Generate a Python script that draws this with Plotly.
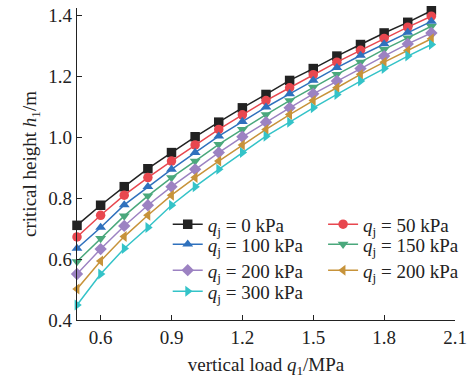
import plotly.graph_objects as go

x_load = [0.5, 0.6, 0.7, 0.8, 0.9, 1.0, 1.1, 1.2, 1.3, 1.4, 1.5, 1.6, 1.7, 1.8, 1.9, 2.0]

h_q0 = [0.711, 0.777, 0.838, 0.897, 0.950, 1.002, 1.050, 1.097, 1.141, 1.187, 1.226, 1.267, 1.305, 1.343, 1.378, 1.416]
h_q50 = [0.673, 0.744, 0.810, 0.868, 0.922, 0.975, 1.026, 1.074, 1.121, 1.163, 1.206, 1.247, 1.286, 1.325, 1.362, 1.398]
h_q100 = [0.635, 0.704, 0.778, 0.838, 0.895, 0.950, 1.004, 1.052, 1.099, 1.143, 1.187, 1.229, 1.269, 1.307, 1.345, 1.381]
h_q150 = [0.592, 0.668, 0.742, 0.808, 0.868, 0.922, 0.977, 1.026, 1.075, 1.121, 1.165, 1.207, 1.247, 1.289, 1.327, 1.365]
h_q200a = [0.551, 0.633, 0.709, 0.777, 0.838, 0.895, 0.950, 1.002, 1.050, 1.097, 1.143, 1.185, 1.226, 1.267, 1.307, 1.343]
h_q200b = [0.502, 0.594, 0.674, 0.744, 0.810, 0.868, 0.922, 0.975, 1.026, 1.075, 1.121, 1.163, 1.207, 1.247, 1.285, 1.324]
h_q300 = [0.449, 0.551, 0.635, 0.704, 0.777, 0.838, 0.895, 0.950, 1.004, 1.050, 1.097, 1.141, 1.185, 1.226, 1.267, 1.305]

labels = ["0", "50", "100", "150", "200", "200", "300"]
series = [h_q0, h_q50, h_q100, h_q150, h_q200a, h_q200b, h_q300]
colors = ["#222222", "#e8474f", "#2f71bd", "#4aa87c", "#9c82c2", "#c7933a", "#34c3c8"]
symbols = ["square", "circle", "triangle-up", "triangle-down", "diamond", "triangle-left", "triangle-right"]

Y_MIN, Y_MAX, Y_TOP = 0.4, 1.4, 1.425
PLOT_H = 304  # pixel height from 0.4 to 1.4
top_margin = 16 - round((Y_TOP - Y_MAX) / (Y_MAX - Y_MIN) * PLOT_H)
full_h = PLOT_H * (Y_TOP - Y_MIN) / (Y_MAX - Y_MIN)

# legend row centres (pixel rows in the picture) and column positions (plot fractions)
legend_rows_px = [224, 224, 244, 244, 270, 270, 291]
legend_cols = [0.240, 0.651, 0.240, 0.651, 0.240, 0.651, 0.240]

FONT = "Liberation Serif"
FS = 19

fig = go.Figure()
layout_legends = {}
for i, (lab, ys, c, s) in enumerate(zip(labels, series, colors, symbols)):
    lid = "legend" if i == 0 else f"legend{i+1}"
    fig.add_trace(go.Scatter(
        x=x_load, y=ys, mode="lines+markers",
        name=f"<i>q</i><sub>j</sub> = {lab} kPa",
        line=dict(color=c, width=1.5),
        marker=dict(symbol=s, size=9.5, color=c),
        cliponaxis=False,
        legend=lid,
    ))
    ypos = 1 - (legend_rows_px[i] - top_margin) / full_h
    layout_legends[lid] = dict(
        x=legend_cols[i], y=ypos, xanchor="left", yanchor="middle",
        font=dict(family=FONT, size=FS, color="#222"),
        bgcolor="rgba(0,0,0,0)", borderwidth=0, itemwidth=30,
    )

fig.update_layout(
    width=473, height=383,
    margin=dict(l=77, r=18, t=top_margin, b=63),
    paper_bgcolor="white", plot_bgcolor="white",
    font=dict(family=FONT, size=FS, color="#222"),
    showlegend=True,
    xaxis=dict(
        range=[0.5, 2.1], tickvals=[0.6, 0.9, 1.2, 1.5, 1.8, 2.1],
        ticktext=["0.6", "0.9", "1.2", "1.5", "1.8", "2.1"],
        showgrid=False, zeroline=False, showline=True, linecolor="#222", linewidth=1.2,
        ticks="inside", ticklen=5, tickcolor="#222", automargin=False,
        title=dict(text="vertical load <i>q</i><sub>1</sub>/MPa", standoff=10, font=dict(size=FS)),
        tickfont=dict(size=FS),
    ),
    yaxis=dict(
        range=[Y_MIN, Y_TOP], tickvals=[0.4, 0.6, 0.8, 1.0, 1.2, 1.4],
        ticktext=["0.4", "0.6", "0.8", "1.0", "1.2", "1.4"],
        showgrid=False, zeroline=False, showline=True, linecolor="#222", linewidth=1.2,
        ticks="inside", ticklen=5, tickcolor="#222", automargin=False,
        title=dict(text="critical height <i>h</i><sub>1</sub>/m", standoff=6, font=dict(size=FS)),
        tickfont=dict(size=FS),
    ),
    **layout_legends,
)

fig.write_html("out.html", config={"displayModeBar": False},
               post_script="document.body.style.margin='0';")
